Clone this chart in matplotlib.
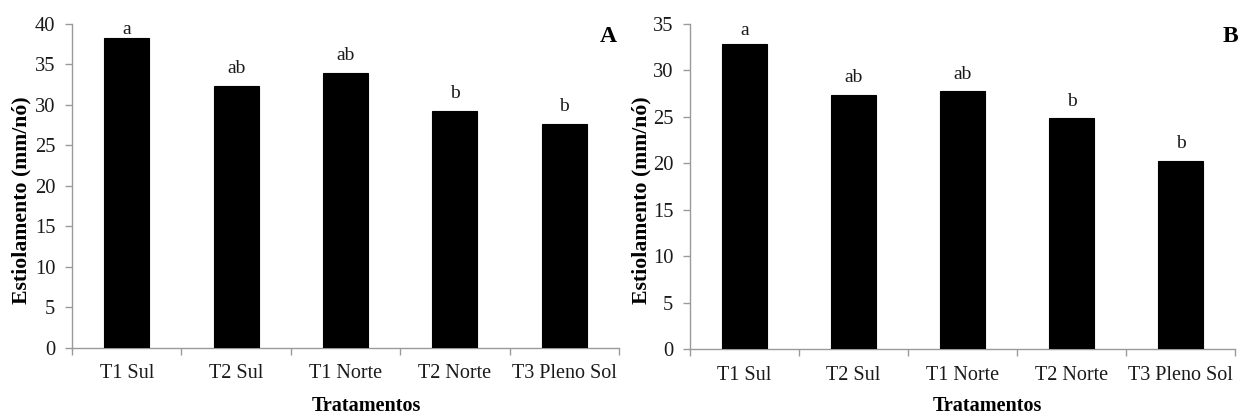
import matplotlib
matplotlib.use("Agg")
import matplotlib.pyplot as plt
import numpy as np

categories = ["T1 Sul", "T2 Sul", "T1 Norte", "T2 Norte", "T3 Pleno Sol"]
values_a = [38.3, 32.4, 34.0, 29.25, 27.65]
values_b = [32.9, 27.4, 27.8, 24.9, 20.3]
letters_a = ["a", "ab", "ab", "b", "b"]
letters_b = ["a", "ab", "ab", "b", "b"]
ylim_a = (0, 40)
ylim_b = (0, 35)
ylabel = "Estiolamento (mm/nó)"
xlabel = "Tratamentos"

plt.rcParams['font.family'] = ['Liberation Serif', 'DejaVu Serif']

fig = plt.figure(figsize=(12.45, 4.15), dpi=100)
W, H = 1245, 415

def make_axes(l, r, top, bottom):
    return fig.add_axes([l / W, 1 - bottom / H, (r - l) / W, (bottom - top) / H])

ax_a = make_axes(72, 619, 24, 347.7)
ax_b = make_axes(690, 1235, 24, 349.3)

spine_col = "#9a9a9a"
gap_px = [[3.4, 12.7, 12.7, 12.7, 13.0], [9.0, 13.0, 12.0, 12.0, 13.0]]

panels = [
    (ax_a, values_a, letters_a, ylim_a, 5, "A", gap_px[0]),
    (ax_b, values_b, letters_b, ylim_b, 5, "B", gap_px[1]),
]

for ax, vals, lets, ylim, step, tag, gaps in panels:
    n = len(categories)
    x = np.arange(n)
    ax.bar(x, vals, width=0.41, color="black", edgecolor="black", linewidth=0.8, zorder=3)
    ax.set_xlim(-0.5, n - 0.5)
    ax.set_ylim(*ylim)
    ax.set_yticks(np.arange(ylim[0], ylim[1] + 0.1, step))
    ax.tick_params(axis="y", length=5, width=1, color=spine_col, labelsize=14.8, pad=7, labelcolor="#1a1a1a")
    ax.set_xticks(np.arange(n + 1) - 0.5)
    ax.set_xticklabels([])
    ax.tick_params(axis="x", which="major", length=5, width=1, color=spine_col, direction="out")
    ax.set_xticks(x, minor=True)
    ax.set_xticklabels(categories, minor=True)
    ax.tick_params(axis="x", which="minor", length=0, labelsize=14.5, pad=12, labelcolor="#1a1a1a")
    for s in ["top", "right"]:
        ax.spines[s].set_visible(False)
    for s in ["left", "bottom"]:
        ax.spines[s].set_color(spine_col)
        ax.spines[s].set_linewidth(1)
    for xi, v, l, g in zip(x, vals, lets, gaps):
        ax.annotate(l, xy=(xi, v), xytext=(0, g * 0.72), textcoords="offset points",
                    ha="center", va="baseline", fontsize=14, color="#1a1a1a")
    ax.set_ylabel(ylabel, fontsize=15.7, fontweight="bold", va="center")
    ax.set_xlabel(xlabel, fontsize=14.5, fontweight="bold", va="baseline")

ax_a.yaxis.set_label_coords((21.3 - 72) / 547, 0.456)
ax_b.yaxis.set_label_coords((641.3 - 690) / 545, 0.459)
ax_a.xaxis.set_label_coords(0.539, (347.7 - 410.7) / 323.7)
ax_b.xaxis.set_label_coords(0.545, (349.3 - 410.7) / 325.3)

ax_a.text((617 - 72) / 547, (347.7 - 41.7) / 323.7, "A", transform=ax_a.transAxes,
          ha="right", va="baseline", fontsize=17, fontweight="bold")
ax_b.text((1238 - 690) / 545, (349.3 - 42) / 325.3, "B", transform=ax_b.transAxes,
          ha="right", va="baseline", fontsize=17, fontweight="bold")

fig.savefig("out.png", dpi=100)
